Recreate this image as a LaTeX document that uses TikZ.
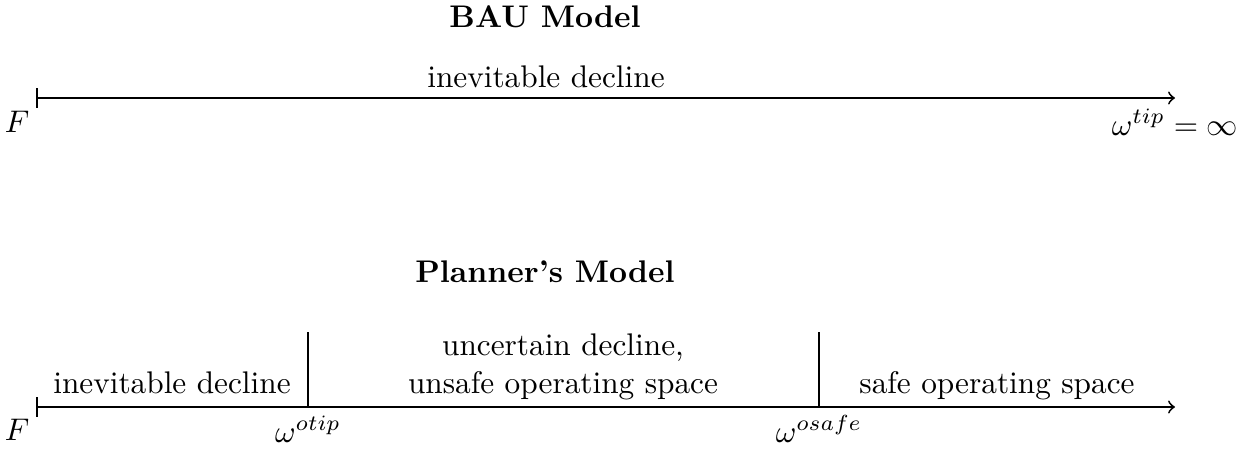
\documentclass[tikz,border=0pt]{standalone}
\begin{document}
\begin{tikzpicture}[x=0.011236cm, y=0.011236cm,
    axis/.style={|->, line width=0.6pt},
    tick/.style={line width=0.6pt},
    lbl/.style={anchor=base, inner sep=0pt},
    ttl/.style={anchor=base, inner sep=0pt, font=\bfseries}]
  \useasboundingbox (0,0) rectangle (1255,448);

  % Business-as-usual model
  \coordinate (a0) at (36,350);
  \coordinate (a1) at (1175,350);
  \draw[axis] (a0) -- (a1);
  \node[ttl] (bau) at (545,421) {BAU Model};
  \node[lbl] (bauseg) at (546,361) {inevitable decline};
  \node[lbl, anchor=base east] (bauF) at (30,316) {$F$};
  \node[lbl] (bautip) at (1175,313) {$\omega^{tip}=\infty$};

  % Planner's model
  \coordinate (b0) at (36,41);
  \coordinate (b1) at (1175,41);
  \coordinate (c1) at (308,41);
  \coordinate (c1t) at (308,116);
  \coordinate (c2) at (819,41);
  \coordinate (c2t) at (819,116);
  \draw[axis] (b0) -- (b1);
  \draw[tick] (c1) -- (c1t);
  \draw[tick] (c2) -- (c2t);
  \node[ttl] (pl) at (545,166) {Planner's Model};
  \node[lbl] (s1) at (172,55) {inevitable decline};
  \node[lbl] (s2a) at (563,93) {uncertain decline,};
  \node[lbl] (s2b) at (563,55) {unsafe operating space};
  \node[lbl] (s3) at (997,55) {safe operating space};
  \node[lbl, anchor=base east] (plF) at (30,8) {$F$};
  \node[lbl] (otip) at (308,6) {$\omega^{otip}$};
  \node[lbl] (osafe) at (819,6) {$\omega^{osafe}$};
\end{tikzpicture}
\end{document}
